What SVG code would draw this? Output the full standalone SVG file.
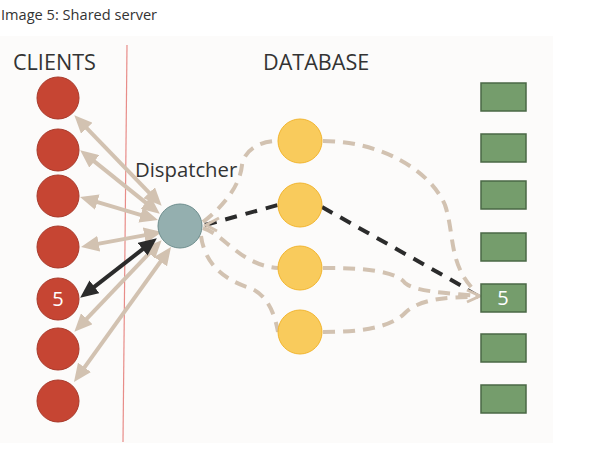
<svg xmlns="http://www.w3.org/2000/svg" width="598" height="450" viewBox="0 0 598 450">
<style>
  .t{font-family:"Open Sans","Noto Sans","Liberation Sans",sans-serif;fill:#333}
  .client{fill:#C64533;stroke:#A8392A;stroke-width:1}
  .db{fill:#F9CB5C;stroke:#F2B52E;stroke-width:1}
  .blk{fill:#759D6C;stroke:#4A6845;stroke-width:1.5}
  .arr{stroke:#D2C2B1;stroke-width:4;fill:none;marker-start:url(#hb);marker-end:url(#hb)}
  .arrk{stroke:#2B2B2B;stroke-width:4;fill:none;marker-start:url(#hk);marker-end:url(#hk)}
  .dash{stroke:#D2C2B1;stroke-width:4;fill:none;stroke-dasharray:12 8}
  .dashk{stroke:#2B2B2B;stroke-width:4;fill:none;stroke-dasharray:12 9}
  .num{font-family:"Open Sans","Noto Sans","Liberation Sans",sans-serif;fill:#fff;font-size:20px;text-anchor:middle}
</style>
<defs>
  <marker id="hb" viewBox="0 0 18 16" refX="12" refY="8" markerWidth="18" markerHeight="16" markerUnits="userSpaceOnUse" orient="auto-start-reverse">
    <path d="M0,0 L18,8 L0,16 z" fill="#D2C2B1"/>
  </marker>
  <marker id="hk" viewBox="0 0 18 16" refX="12" refY="8" markerWidth="18" markerHeight="16" markerUnits="userSpaceOnUse" orient="auto-start-reverse">
    <path d="M0,0 L18,8 L0,16 z" fill="#2B2B2B"/>
  </marker>
</defs>
<rect x="0" y="36" width="553" height="407" fill="#FCFBFA"/>
<text class="t" x="1" y="20" font-size="14.6">Image 5: Shared server</text>
<text class="t" x="13" y="70" font-size="21.6">CLIENTS</text>
<text class="t" x="263" y="70" font-size="21.6">DATABASE</text>
<line x1="127" y1="45" x2="123" y2="442" stroke="#E88C88" stroke-width="1.2"/>
<g id="connectors">
  <path class="arr" d="M78.5,119.6 L157.5,201.4"/>
  <path class="arr" d="M84.9,153.9 L155.1,210.1"/>
  <path class="arr" d="M85.8,198.7 L152.2,218.3"/>
  <path class="arr" d="M86.9,245.9 L156.1,233.1"/>
  <path class="arr" d="M78.5,327.4 L157.5,244.6"/>
  <path class="arr" d="M77.5,377.1 L167.5,251.9"/>
  <path class="arrk" d="M84.9,294.1 L152.1,241.9"/>
  <path class="dash" d="M203,222 C225,205 240,185 242,165 C244,150 260,141 278,141"/>
  <path class="dash" d="M323,141 C380,141 430,170 445,205 C455,235 448,265 476,292"/>
  <path class="dash" d="M203,228 C225,235 240,265 278,268"/>
  <path class="dash" d="M323,268 C360,268 395,270 405,283 C415,292 450,293 478,296"/>
  <path class="dash" d="M201,236 C205,265 225,280 250,288 C268,295 275,315 278,332"/>
  <path class="dash" d="M323,332 C360,332 390,328 405,313 C420,298 450,297 478,297"/>
  <path class="dashk" d="M205,225 L278,205"/>
  <path class="dashk" d="M322,207 L462,286"/>
  <path d="M468,289 L480,296" stroke="#2B2B2B" stroke-width="1.5"/>
  <path d="M467,290 L480,296 L467,302" stroke="#D2C2B1" stroke-width="3" fill="none"/>
  <path d="M219,218 L206,225 L217,231" stroke="#D2C2B1" stroke-width="3" fill="none"/>
</g>
<g id="client1"><circle class="client" cx="58" cy="98" r="21"/></g>
<g id="client2"><circle class="client" cx="58" cy="150" r="21"/></g>
<g id="client3"><circle class="client" cx="58" cy="196" r="21"/></g>
<g id="client4"><circle class="client" cx="58" cy="247" r="21"/></g>
<g id="client5"><circle class="client" cx="58" cy="299" r="21"/><text class="num" x="58" y="306">5</text></g>
<g id="client6"><circle class="client" cx="58" cy="349" r="21"/></g>
<g id="client7"><circle class="client" cx="58" cy="401" r="21"/></g>
<g id="dispatcher">
  <circle cx="180" cy="226" r="22" fill="#94AFAF" stroke="#6D8D8D" stroke-width="1"/>
  <text class="t" x="135" y="177" font-size="20.3">Dispatcher</text>
</g>
<g id="db1"><circle class="db" cx="300" cy="141" r="22"/></g>
<g id="db2"><circle class="db" cx="300" cy="205" r="22"/></g>
<g id="db3"><circle class="db" cx="300" cy="268" r="22"/></g>
<g id="db4"><circle class="db" cx="300" cy="332" r="22"/></g>
<g id="blk1"><rect class="blk" x="481" y="83" width="45" height="28"/></g>
<g id="blk2"><rect class="blk" x="481" y="134" width="45" height="28"/></g>
<g id="blk3"><rect class="blk" x="481" y="181" width="45" height="28"/></g>
<g id="blk4"><rect class="blk" x="481" y="233" width="45" height="28"/></g>
<g id="blk5"><rect class="blk" x="481" y="284" width="45" height="28"/><text class="num" x="503" y="305">5</text></g>
<g id="blk6"><rect class="blk" x="481" y="334" width="45" height="28"/></g>
<g id="blk7"><rect class="blk" x="481" y="385" width="45" height="28"/></g>
</svg>
